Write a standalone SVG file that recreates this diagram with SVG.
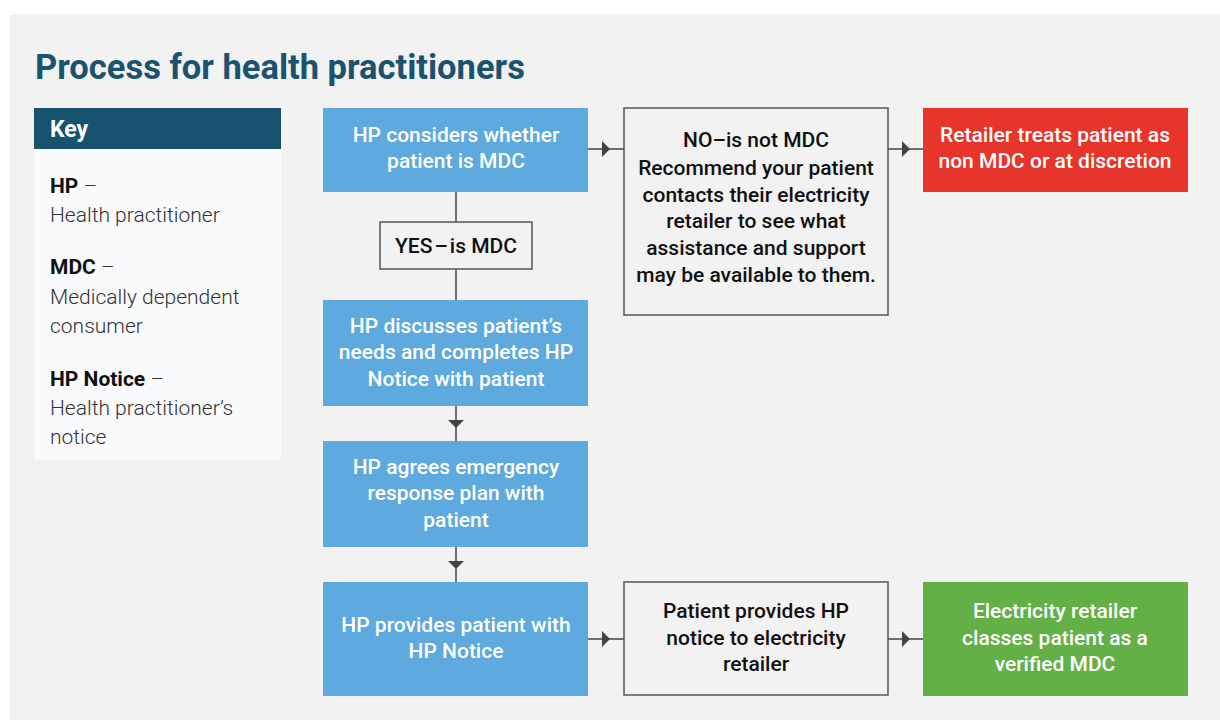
<svg xmlns="http://www.w3.org/2000/svg" width="1220" height="720" viewBox="0 0 1220 720">
<defs>
<style>
.t{font-family:Roboto,"Liberation Sans",sans-serif;text-anchor:middle;font-size:21px;font-weight:500}
.w{fill:#ffffff}
.k{fill:#111111}
.blue{fill:#5ea9dd}
.gbox{fill:#f1f2f1;stroke:#555555;stroke-width:1.5}
.ln{stroke:#444444;stroke-width:1.5;fill:none}
.ah{fill:#444444}
.kb{font-family:Roboto,"Liberation Sans",sans-serif;font-size:21px;font-weight:700;fill:#111111}
.kl{font-family:Roboto,"Liberation Sans",sans-serif;font-size:21px;font-weight:300;fill:#333333}
</style>
</defs>
<rect x="0" y="0" width="1220" height="720" fill="#ffffff"/>
<rect x="10" y="14" width="1210" height="706" fill="#f1f2f1"/>
<text x="35" y="79" font-family="Roboto,'Liberation Sans',sans-serif" font-size="34.5" font-weight="700" fill="#1a5270">Process for health practitioners</text>

<g id="key">
<rect x="34" y="108" width="247" height="352" fill="#f9fafc"/>
<rect x="34" y="108" width="247" height="41" fill="#17536e"/>
<text x="50" y="137" font-family="Roboto,'Liberation Sans',sans-serif" font-size="23" font-weight="700" fill="#ffffff">Key</text>
<text x="50" y="193" class="kb">HP <tspan class="kl">–</tspan></text>
<text x="50" y="222" class="kl">Health practitioner</text>
<text x="50" y="274" class="kb">MDC <tspan class="kl">–</tspan></text>
<text x="50" y="304" class="kl">Medically dependent</text>
<text x="50" y="333" class="kl">consumer</text>
<text x="50" y="386" class="kb">HP Notice <tspan class="kl">–</tspan></text>
<text x="50" y="415" class="kl">Health practitioner’s</text>
<text x="50" y="444" class="kl">notice</text>
</g>

<g id="connectors">
<line class="ln" x1="456" y1="192" x2="456" y2="222"/>
<line class="ln" x1="456" y1="269" x2="456" y2="300"/>
<line class="ln" x1="456" y1="406" x2="456" y2="441"/>
<polygon class="ah" points="448,420 464,420 456,428"/>
<line class="ln" x1="456" y1="547" x2="456" y2="582"/>
<polygon class="ah" points="448,561 464,561 456,569"/>
<line class="ln" x1="588" y1="149" x2="624" y2="149"/>
<polygon class="ah" points="602,141 602,157 610,149"/>
<line class="ln" x1="888" y1="149" x2="923" y2="149"/>
<polygon class="ah" points="902,141 902,157 910,149"/>
<line class="ln" x1="588" y1="639" x2="624" y2="639"/>
<polygon class="ah" points="602,631 602,647 610,639"/>
<line class="ln" x1="888" y1="639" x2="923" y2="639"/>
<polygon class="ah" points="902,631 902,647 910,639"/>
</g>

<g id="n1">
<rect class="blue" x="323" y="108" width="265" height="84"/>
<text class="t w" x="456" y="142">HP considers whether</text>
<text class="t w" x="456" y="168">patient is MDC</text>
</g>
<g id="yes">
<rect class="gbox" x="380" y="222" width="152" height="47"/>
<text class="t k" x="456" y="253" font-weight="700">YES<tspan dx="2">–</tspan><tspan dx="2">is MDC</tspan></text>
</g>
<g id="no">
<rect class="gbox" x="624" y="108" width="264" height="207"/>
<text class="t k" x="756" y="147" font-weight="700">NO–is not MDC</text>
<text class="t k" x="756" y="175">Recommend your patient</text>
<text class="t k" x="756" y="202">contacts their electricity</text>
<text class="t k" x="756" y="228">retailer to see what</text>
<text class="t k" x="756" y="255">assistance and support</text>
<text class="t k" x="756" y="282">may be available to them.</text>
</g>
<g id="red">
<rect x="923" y="108" width="265" height="84" fill="#e8352b"/>
<text class="t w" x="1055" y="142">Retailer treats patient as</text>
<text class="t w" x="1055" y="168">non MDC or at discretion</text>
</g>
<g id="n2">
<rect class="blue" x="323" y="300" width="265" height="106"/>
<text class="t w" x="456" y="333">HP discusses patient’s</text>
<text class="t w" x="456" y="359">needs and completes HP</text>
<text class="t w" x="456" y="386">Notice with patient</text>
</g>
<g id="n3">
<rect class="blue" x="323" y="441" width="265" height="106"/>
<text class="t w" x="456" y="474">HP agrees emergency</text>
<text class="t w" x="456" y="500">response plan with</text>
<text class="t w" x="456" y="527">patient</text>
</g>
<g id="n4">
<rect class="blue" x="323" y="582" width="265" height="114"/>
<text class="t w" x="456" y="632">HP provides patient with</text>
<text class="t w" x="456" y="658">HP Notice</text>
</g>
<g id="patient">
<rect class="gbox" x="624" y="582" width="264" height="113"/>
<text class="t k" x="756" y="618">Patient provides HP</text>
<text class="t k" x="756" y="645">notice to electricity</text>
<text class="t k" x="756" y="671">retailer</text>
</g>
<g id="green">
<rect x="923" y="582" width="265" height="114" fill="#62b046"/>
<text class="t w" x="1055" y="618">Electricity retailer</text>
<text class="t w" x="1055" y="645">classes patient as a</text>
<text class="t w" x="1055" y="671">verified MDC</text>
</g>
</svg>
